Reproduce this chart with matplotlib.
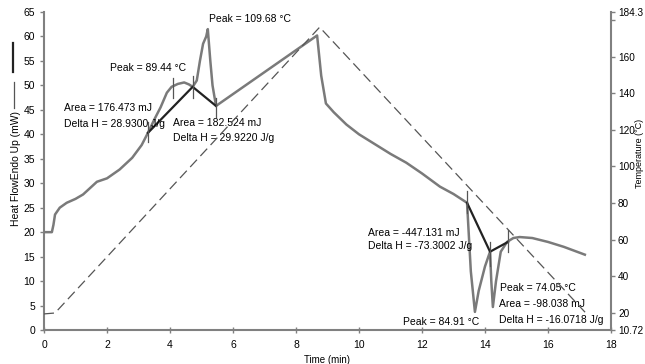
import matplotlib
matplotlib.use("Agg")
import matplotlib.pyplot as plt
from matplotlib.lines import Line2D

plt.rcParams['font.family'] = ['Liberation Sans', 'DejaVu Sans']
plt.rcParams['font.size'] = 7.5

# heat flow trace (mW) vs time (min)
time_hf = [0, 0.25, 0.3, 0.35, 0.5, 0.72, 1.0, 1.24, 1.68, 2.0, 2.4, 2.8, 3.1, 3.3,
           3.5, 3.7, 3.9, 4.05, 4.25, 4.45, 4.6, 4.72, 4.85, 4.95, 5.05, 5.15, 5.2,
           5.28, 5.35, 5.46, 8.67, 8.8, 8.95, 9.2, 9.6, 10.0, 10.5, 11.0, 11.5, 12.0,
           12.57, 13.0, 13.43, 13.55, 13.68, 13.8, 14.0, 14.16, 14.2, 14.25, 14.35,
           14.5, 14.7, 14.9, 15.1, 15.5, 16.0, 16.5, 17.17]
heat_flow = [20, 20, 21.5, 23.6, 25, 26, 26.8, 27.7, 30.3, 31, 32.8, 35.2, 37.8, 40.3,
             43, 45.5, 48.5, 49.7, 50.3, 50.6, 50.2, 49.7, 51, 55, 58.5, 60, 61.5,
             55, 50, 45.8, 60.2, 52, 46.3, 44.5, 42, 40, 38, 36, 34.2, 32,
             29.3, 27.8, 26, 12, 3.7, 8, 13, 16, 10, 4.7, 10,
             16, 18, 18.8, 19, 18.8, 18, 17, 15.4]

# program temperature (°C)
time_temp = [0, 0.35, 8.75, 17.2]
temperature = [19.5, 20, 176, 20]

# integration baselines
base1_t = [3.3, 4.72, 5.46]
base1_hf = [40.3, 49.7, 45.8]
base2_t = [13.43, 14.16, 14.73]
base2_hf = [26, 16, 18]

# limit markers (time, low, high)
marks = [(3.3, 38.5, 42.5), (4.08, 47.5, 51.5), (4.72, 47.5, 52), (5.46, 43.5, 47.5),
         (13.43, 24, 28.5), (14.16, 13, 18), (14.73, 16, 20.5)]

labels = [
    (5.24, 63.5, "Peak = 109.68 °C"),
    (2.1, 53.5, "Peak = 89.44 °C"),
    (0.63, 45.4, "Area = 176.473 mJ"),
    (0.63, 42.2, "Delta H = 28.9300 J/g"),
    (4.1, 42.3, "Area = 182.524 mJ"),
    (4.1, 39.2, "Delta H = 29.9220 J/g"),
    (10.3, 19.8, "Area = -447.131 mJ"),
    (10.3, 17.1, "Delta H = -73.3002 J/g"),
    (11.4, 1.7, "Peak = 84.91 °C"),
    (14.48, 8.6, "Peak = 74.05 °C"),
    (14.45, 5.3, "Area = -98.038 mJ"),
    (14.45, 2.0, "Delta H = -16.0718 J/g"),
]

fig = plt.figure(figsize=(6.45, 3.64), dpi=100)
ax = fig.add_axes([44 / 645, 34 / 364, 567 / 645, 318 / 364])
ax2 = ax.twinx()

ax.plot(time_hf, heat_flow, color='#7a7a7a', lw=1.8, zorder=3)
ax.plot(base1_t, base1_hf, color='#222222', lw=1.6, zorder=4)
ax.plot(base2_t, base2_hf, color='#222222', lw=1.6, zorder=4)
for t, lo, hi in marks:
    ax.plot([t, t], [lo, hi], color='#555555', lw=0.9, zorder=4)
ax2.plot(time_temp, temperature, color='#555555', lw=0.9, dashes=(8, 4))

for x, y, s in labels:
    ax.text(x, y, s, fontsize=7.5, va='center', ha='left', zorder=5)

ax.set_xlim(0, 18)
ax.set_ylim(0, 65)
ax.set_xticks(range(0, 19, 2))
ax.set_yticks(range(0, 66, 5))
ax2.set_ylim(10.72, 184.3)
ax2.set_yticks([10.72, 20, 40, 60, 80, 100, 120, 140, 160, 180, 184.3])
ax2.set_yticklabels(['10.72', '20', '40', '60', '80', '100', '120', '140', '160', '', '184.3'])

for a in (ax, ax2):
    a.spines['top'].set_visible(False)
    for s in ('left', 'right', 'bottom'):
        a.spines[s].set_color('#808080')
        a.spines[s].set_linewidth(1.5)
    a.tick_params(colors='#808080', labelcolor='black', length=3, width=1, labelsize=7.5)
ax.tick_params(axis='x', direction='inout', length=4, pad=5)
ax2.tick_params(axis='y', pad=2, labelsize=7.2)
ax.spines['right'].set_visible(False)
ax2.spines['left'].set_visible(False)
ax2.spines['bottom'].set_visible(False)

ax.set_xlabel("Time (min)", fontsize=7, labelpad=4)

fig.text(16 / 645, 1 - 168 / 364, "Heat FlowEndo Up (mW)", rotation=90,
         ha='center', va='center', fontsize=7.5)
fig.lines.append(Line2D([13 / 645, 13 / 645], [1 - 43 / 364, 1 - 72 / 364],
                        transform=fig.transFigure, color='#222222', lw=1.6))
fig.lines.append(Line2D([14 / 645, 14 / 645], [1 - 82 / 364, 1 - 108 / 364],
                        transform=fig.transFigure, color='#555555', lw=0.9))
fig.text(644.5 / 645, 1 - 153 / 364, "Temperature (°C)", rotation=90,
         ha='right', va='center', fontsize=6.5)

fig.savefig("out.png", dpi=100)
